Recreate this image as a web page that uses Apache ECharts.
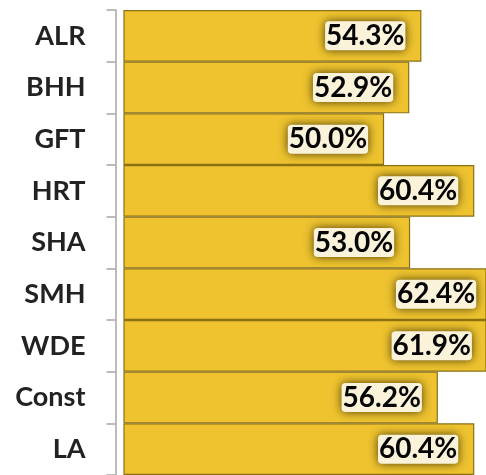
<!DOCTYPE html>
<html>
<head>
<meta charset="utf-8">
<script src="https://cdn.jsdelivr.net/npm/echarts@6/dist/echarts.min.js"></script>
<style>
  html, body { margin: 0; padding: 0; background: #fff; }
  #chart { width: 486px; height: 475px; }
</style>
</head>
<body>
<div id="chart"></div>
<script>
  // categories top to bottom
  var categories = ['ALR', 'BHH', 'GFT', 'HRT', 'SHA', 'SMH', 'WDE', 'Const', 'LA'];
  var values = [54.3, 52.9, 50.0, 60.4, 53.0, 62.4, 61.9, 56.2, 60.4];

  var axisMin = 20;
  var axisMax = 61.75;
  var pxPerUnit = (486 - 124) / (axisMax - axisMin);

  // bars longer than the visible area get clipped, push their labels back out
  var barData = values.map(function (v) {
    var over = Math.max(0, v - axisMax) * pxPerUnit;
    return { value: v, label: { distance: 16 - over } };
  });

  var chart = echarts.init(document.getElementById('chart'));
  chart.setOption({
    animation: false,
    grid: {
      top: 10,
      left: 124,
      right: 0,
      height: 468
    },
    xAxis: {
      type: 'value',
      min: axisMin,
      max: axisMax,
      show: false
    },
    yAxis: {
      type: 'category',
      inverse: true,
      offset: 8.5,
      data: categories,
      axisLine: {
        show: true,
        lineStyle: { color: '#A6A6A6', width: 1.5 }
      },
      axisTick: {
        show: true,
        length: 9,
        lineStyle: { color: '#A6A6A6', width: 1.5 }
      },
      axisLabel: {
        margin: 30,
        color: '#222222',
        fontFamily: 'Lato',
        fontWeight: 'bold',
        fontSize: 27
      }
    },
    series: [{
      type: 'bar',
      data: barData,
      barCategoryGap: '0%',
      itemStyle: {
        color: '#EEC32F',
        borderColor: '#8B7014',
        borderWidth: 1.2
      },
      label: {
        show: true,
        position: 'insideRight',
        formatter: function (p) { return p.value.toFixed(1) + '%'; },
        color: '#050505',
        fontFamily: 'Lato',
        fontWeight: 'bold',
        fontSize: 28,
        lineHeight: 28,
        backgroundColor: '#FAF3DA',
        padding: [1, 1, 0, 1],
        borderRadius: 4,
        shadowBlur: 10,
        shadowColor: '#4A3C08'
      }
    }]
  });
</script>
</body>
</html>
